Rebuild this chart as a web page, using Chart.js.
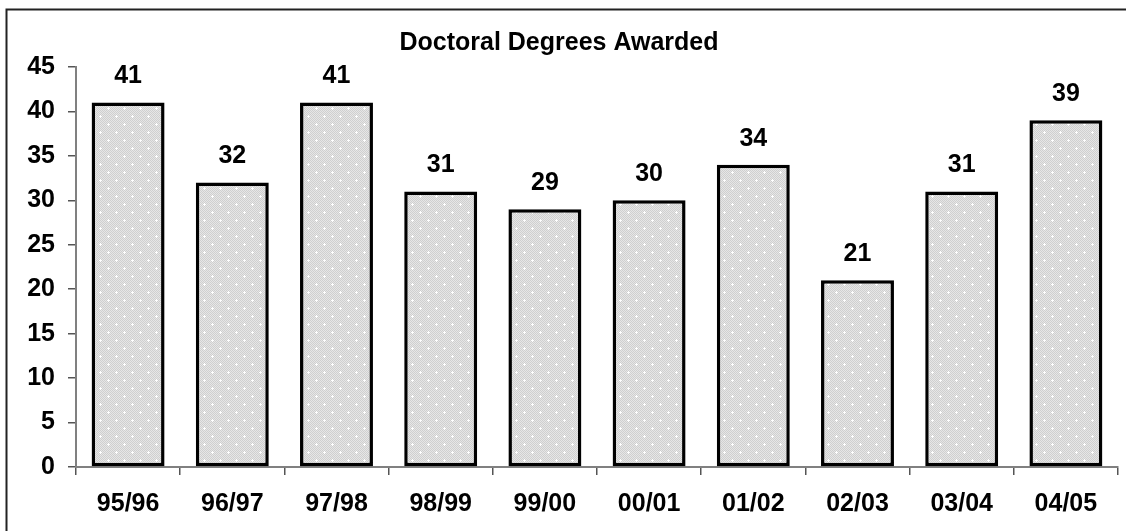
<!DOCTYPE html>
<html>
<head>
<meta charset="utf-8">
<title>Doctoral Degrees Awarded</title>
<script src="https://cdn.jsdelivr.net/npm/chart.js@4.4.1/dist/chart.umd.min.js"></script>
<style>
    html, body { margin: 0; padding: 0; background: #fff; }
    #wrap { width: 1126px; height: 531px; position: relative; }
</style>
</head>
<body>
<div id="wrap"><canvas id="chart1"></canvas></div>
<script>
// chart data
const years = ["95/96", "96/97", "97/98", "98/99", "99/00", "00/01", "01/02", "02/03", "03/04", "04/05"];
const degrees = [41, 32, 41, 31, 29, 30, 34, 21, 31, 39];
const yTicks = [0, 5, 10, 15, 20, 25, 30, 35, 40, 45];

const fontFamily = "'Liberation Sans', Arial, sans-serif";

// light grey dotted fill like the old excel pattern
function makePattern() {
    let c = document.createElement("canvas");
    c.width = 16;
    c.height = 16;
    let p = c.getContext("2d");
    for (let y = 0; y < 16; y++) {
        for (let x = 0; x < 16; x++) {
            p.fillStyle = (x + y) % 2 === 0 ? "#cfcfcf" : "#e6e6e6";
            p.fillRect(x, y, 1, 1);
        }
    }
    p.fillStyle = "#ffffff";
    [[4, 4], [12, 12]].forEach(([x, y]) => {
        p.fillRect(x - 1, y, 3, 1);
        p.fillRect(x, y - 1, 1, 3);
    });
    return p.createPattern(c, "repeat");
}

// white background + the frame lines of the chart box
const framePlugin = {
    id: "frame",
    beforeDraw(chart) {
        const ctx = chart.ctx;
        ctx.save();
        ctx.fillStyle = "#fff";
        ctx.fillRect(0, 0, chart.width, chart.height);
        ctx.strokeStyle = "#222";
        ctx.lineWidth = 2;
        ctx.beginPath();
        ctx.moveTo(chart.width, 9.5);
        ctx.lineTo(6.5, 9.5);
        ctx.lineTo(6.5, chart.height);
        ctx.stroke();
        ctx.restore();
    }
};

// value labels above each bar
const valueLabels = {
    id: "valueLabels",
    afterDatasetsDraw(chart) {
        const ctx = chart.ctx;
        const meta = chart.getDatasetMeta(0);
        ctx.save();
        ctx.font = "bold 25px " + fontFamily;
        ctx.fillStyle = "#000";
        ctx.textAlign = "center";
        ctx.textBaseline = "middle";
        meta.data.forEach((bar, i) => {
            ctx.fillText(String(degrees[i]), bar.x, bar.y - 26);
        });
        ctx.restore();
    }
};

let ctx1 = document.getElementById("chart1").getContext("2d");
new Chart(ctx1, {
    type: "bar",
    data: {
        labels: years,
        datasets: [{
            label: "Doctoral Degrees",
            data: degrees,
            backgroundColor: makePattern(),
            borderColor: "#000",
            borderWidth: 3.5,
            borderSkipped: false,
            barPercentage: 0.7,
            categoryPercentage: 1.0
        }]
    },
    options: {
        responsive: true,
        maintainAspectRatio: false,
        animation: false,
        layout: { padding: { left: 0, right: 8, top: 0, bottom: 0 } },
        plugins: {
            legend: { display: false },
            tooltip: { enabled: false },
            title: {
                display: true,
                text: "Doctoral Degrees Awarded",
                color: "#000",
                font: { family: fontFamily, size: 25, weight: "bold" },
                padding: { top: 28, bottom: 9 }
            }
        },
        scales: {
            x: {
                afterFit: scale => { scale.height = 64; },
                grid: {
                    drawOnChartArea: false,
                    drawTicks: true,
                    tickLength: 8,
                    color: "#555",
                    lineWidth: 1.5,
                    offset: true
                },
                border: { display: true, color: "#808080", width: 2 },
                ticks: {
                    color: "#000",
                    padding: 14,
                    font: { family: fontFamily, size: 25, weight: "bold" }
                }
            },
            y: {
                min: 0,
                max: 45,
                afterFit: scale => { scale.width = 76; },
                afterBuildTicks: scale => {
                    scale.ticks = yTicks.map(v => ({ value: v }));
                },
                grid: {
                    drawOnChartArea: false,
                    drawTicks: true,
                    tickLength: 8,
                    color: "#555",
                    lineWidth: 1.5
                },
                border: { display: true, color: "#808080", width: 2 },
                ticks: {
                    color: "#000",
                    padding: 13,
                    font: { family: fontFamily, size: 25, weight: "bold" }
                }
            }
        }
    },
    plugins: [framePlugin, valueLabels]
});
</script>
</body>
</html>
